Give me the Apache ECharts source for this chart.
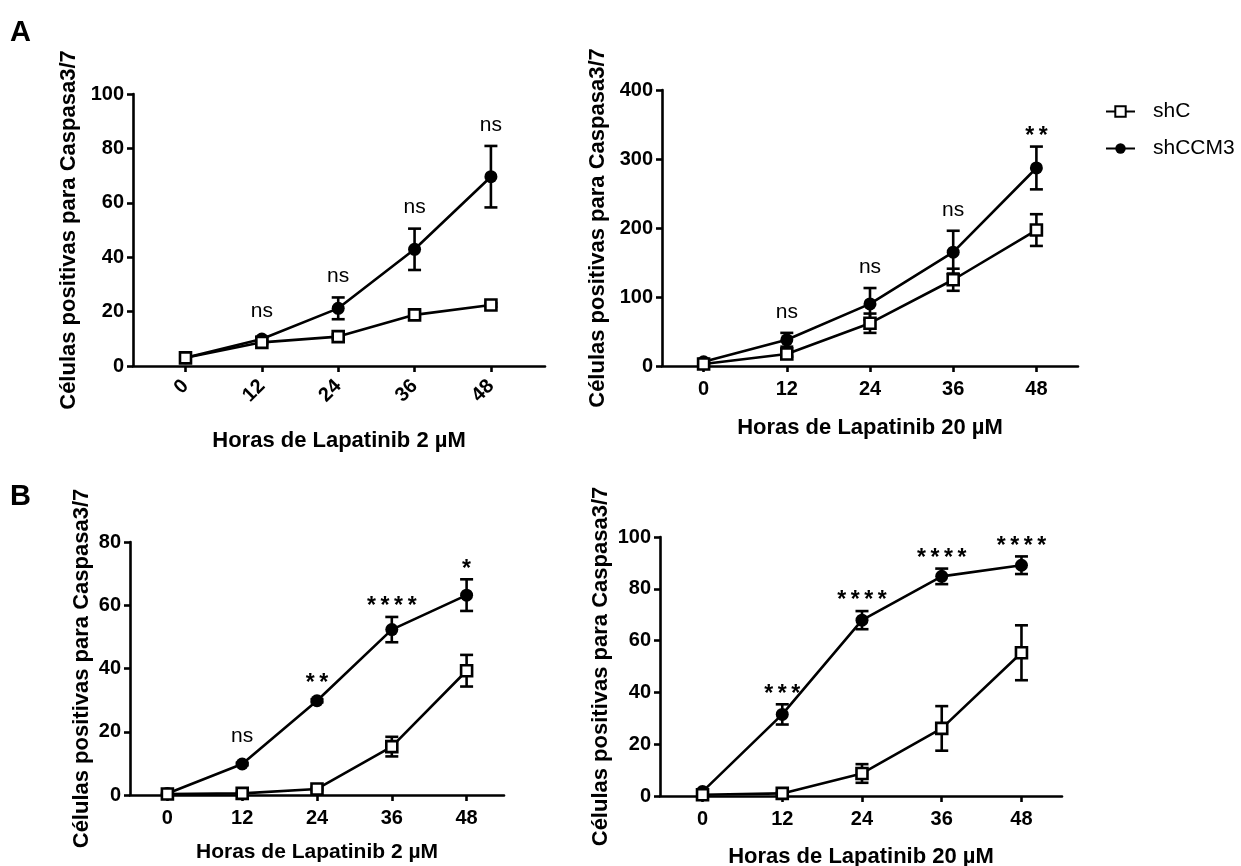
<!DOCTYPE html>
<html><head><meta charset="utf-8">
<script src="https://cdn.jsdelivr.net/npm/echarts@6/dist/echarts.min.js"></script>
<style>html,body{margin:0;padding:0;background:#fff}#c{width:1241px;height:866px}</style>
</head><body><div id="c"></div>
<script>
// ---- data ----
const hours = [0, 12, 24, 36, 48];
const xTickLabels = ['0', '12', '24', '36', '48'];
const seriesNames = ['shC', 'shCCM3'];

// Panel A1: Lapatinib 2 µM
const a1ShC = [3.0, 8.7, 10.8, 18.8, 22.4];
const a1ShCErr = [0.4, 0.6, 0.8, 0.8, 0.6];
const a1ShCCM3 = [3.0, 9.9, 21.2, 42.9, 69.6];
const a1ShCCM3Err = [0.3, 0.8, 4.0, 7.6, 11.3];
const a1Sig = ['', 'ns', 'ns', 'ns', 'ns'];

// Panel A2: Lapatinib 20 µM
const a2ShC = [3, 17.5, 62, 125, 197];
const a2ShCErr = [1, 4, 14, 16, 23];
const a2ShCCM3 = [6, 38, 90, 165, 287];
const a2ShCCM3Err = [2, 10, 23, 31, 31];
const a2Sig = ['', 'ns', 'ns', 'ns', '**'];

// Panel B1: Lapatinib 2 µM
const b1ShC = [0.3, 0.5, 1.9, 15.3, 39.3];
const b1ShCErr = [0.2, 0.3, 0.4, 3.1, 5.0];
const b1ShCCM3 = [0.5, 9.8, 29.8, 52.3, 63.2];
const b1ShCCM3Err = [0.2, 0.4, 0.5, 4.0, 5.0];
const b1Sig = ['', 'ns', '**', '****', '*'];

// Panel B2: Lapatinib 20 µM
const b2ShC = [0.5, 1.0, 8.7, 26.1, 55.3];
const b2ShCErr = [0.3, 0.4, 3.6, 8.6, 10.6];
const b2ShCCM3 = [1.7, 31.5, 67.9, 84.8, 89.1];
const b2ShCCM3Err = [0.3, 3.9, 3.5, 3.0, 3.4];
const b2Sig = ['', '***', '****', '****', '****'];

const yTitle = 'Células positivas para Caspasa3/7';
const xTitle2 = 'Horas de Lapatinib 2 µM';
const xTitle20 = 'Horas de Lapatinib 20 µM';

// ---- layout ----
const FF = '"Liberation Sans", Arial, Helvetica, sans-serif';
const panels = [
  {grid:{left:133, top:94, width:412, height:272}, xmin:-8.25, xmax:56.5, ymax:100, yint:20, rot:45, lblMargin:17,
   xName:xTitle2, xGap:64, yGap:53, xNameSize:22,
   shC:a1ShC, shCErr:a1ShCErr, ccm:a1ShCCM3, ccmErr:a1ShCCM3Err, sig:a1Sig},
  {grid:{left:662, top:90, width:416, height:276}, xmin:-6, xmax:54, ymax:400, yint:100, rot:0, lblMargin:13,
   xName:xTitle20, xGap:51, yGap:53, xNameSize:22,
   shC:a2ShC, shCErr:a2ShCErr, ccm:a2ShCCM3, ccmErr:a2ShCCM3Err, sig:a2Sig},
  {grid:{left:130, top:542, width:374, height:253}, xmin:-6, xmax:54, ymax:80, yint:20, rot:0, lblMargin:13,
   xName:xTitle2, xGap:47, yGap:37, xNameSize:21,
   shC:b1ShC, shCErr:b1ShCErr, ccm:b1ShCCM3, ccmErr:b1ShCCM3Err, sig:b1Sig},
  {grid:{left:660, top:537, width:402, height:259}, xmin:-6.4, xmax:54.1, ymax:100, yint:20, rot:0, lblMargin:13,
   xName:xTitle20, xGap:50, yGap:48, xNameSize:22,
   shC:b2ShC, shCErr:b2ShCErr, ccm:b2ShCCM3, ccmErr:b2ShCCM3Err, sig:b2Sig}
];

const axisLineStyle = {color:'#000', width:2.6};

function errRender(params, api) {
  const x = api.value(0), m = api.value(1), e = api.value(2);
  const t = api.coord([x, m + e]), b = api.coord([x, m - e]);
  const hw = 6.5;
  const st = {stroke:'#000', lineWidth:2.6, fill:null};
  return {type:'group', children:[
    {type:'line', shape:{x1:t[0], y1:t[1], x2:b[0], y2:b[1]}, style:st},
    {type:'line', shape:{x1:t[0]-hw, y1:t[1], x2:t[0]+hw, y2:t[1]}, style:st},
    {type:'line', shape:{x1:b[0]-hw, y1:b[1], x2:b[0]+hw, y2:b[1]}, style:st}
  ]};
}

function sigRender(sig) {
  return function(params, api) {
    const txt = sig[params.dataIndex];
    if (!txt) return null;
    const x = api.value(0), m = api.value(1), e = api.value(2);
    const pTop = api.coord([x, m + e]);
    const pC = api.coord([x, m]);
    const anchor = Math.min(pTop[1], pC[1] - 7);
    const star = txt.indexOf('*') >= 0;
    const shown = star ? txt.split('').join('\u2009') : txt;
    return {type:'text', x:pC[0], y:anchor - (star ? 10 : 21),
      style:{text:shown, fill:'#000', font:(star ? 'bold 23px ' : '21px ') + FF,
        align:'center', verticalAlign:'middle', textAlign:'center', textVerticalAlign:'middle'}};
  };
}

const grids = [], xAxes = [], yAxes = [], series = [];
panels.forEach((p, i) => {
  grids.push(Object.assign({containLabel:false, outerBoundsMode:'none'}, p.grid));
  xAxes.push({
    type:'value', gridIndex:i, min:p.xmin, max:p.xmax,
    axisLine:{show:true, onZero:false, lineStyle:axisLineStyle},
    axisTick:{show:true, length:6, lineStyle:axisLineStyle, customValues:hours},
    axisLabel:{show:true, customValues:hours, rotate:p.rot, margin:p.lblMargin,
      formatter:(v) => xTickLabels[hours.indexOf(v)] ?? '',
      fontSize:20, fontWeight:'bold', color:'#000', fontFamily:FF},
    splitLine:{show:false},
    name:p.xName, nameLocation:'middle', nameGap:p.xGap,
    nameTextStyle:{fontSize:p.xNameSize, fontWeight:'bold', color:'#000', fontFamily:FF}
  });
  yAxes.push({
    type:'value', gridIndex:i, min:0, max:p.ymax, interval:p.yint,
    axisLine:{show:true, onZero:false, lineStyle:axisLineStyle},
    axisTick:{show:true, length:6, lineStyle:axisLineStyle},
    axisLabel:{fontSize:20, fontWeight:'bold', color:'#000', margin:9, fontFamily:FF},
    splitLine:{show:false},
    name:yTitle, nameLocation:'middle', nameGap:p.yGap, nameRotate:90,
    nameTextStyle:{fontSize:22, fontWeight:'bold', color:'#000', fontFamily:FF}
  });
  const pts = (vals) => hours.map((h, k) => [h, vals[k]]);
  const ptsE = (vals, errs) => hours.map((h, k) => [h, vals[k], errs[k]]);
  // error bars
  series.push({type:'custom', xAxisIndex:i, yAxisIndex:i, renderItem:errRender, data:ptsE(p.ccm, p.ccmErr), z:1, silent:true, clip:false});
  series.push({type:'custom', xAxisIndex:i, yAxisIndex:i, renderItem:errRender, data:ptsE(p.shC, p.shCErr), z:1, silent:true, clip:false});
  // lines
  series.push({type:'line', name:seriesNames[1], xAxisIndex:i, yAxisIndex:i, data:pts(p.ccm),
    symbol:'circle', symbolSize:13, showAllSymbol:true,
    lineStyle:{color:'#000', width:2.6}, itemStyle:{color:'#000', borderColor:'#000', borderWidth:0},
    z:3, emphasis:{disabled:true}});
  series.push({type:'line', name:seriesNames[0], xAxisIndex:i, yAxisIndex:i, data:pts(p.shC),
    symbol:'rect', symbolSize:11, showAllSymbol:true,
    lineStyle:{color:'#000', width:2.6}, itemStyle:{color:'#fff', borderColor:'#000', borderWidth:2.6},
    z:4, emphasis:{disabled:true}});
  // significance
  series.push({type:'custom', xAxisIndex:i, yAxisIndex:i, renderItem:sigRender(p.sig), data:ptsE(p.ccm, p.ccmErr), z:5, silent:true, clip:false});
});

const chart = echarts.init(document.getElementById('c'), null, {renderer:'canvas'});
chart.setOption({
  animation:false,
  backgroundColor:'#fff',
  textStyle:{fontFamily:FF},
  grid:grids, xAxis:xAxes, yAxis:yAxes, series:series,
  legend:{data:seriesNames, orient:'vertical', left:1100, top:96, itemWidth:29, itemHeight:13, itemGap:16,
    textStyle:{fontSize:21, color:'#000', fontFamily:FF, padding:[0,0,0,13]}},
  graphic:[
    {type:'text', left:10, top:18, style:{text:'A', font:'bold 29px ' + FF, fill:'#000'}},
    {type:'text', left:10, top:482, style:{text:'B', font:'bold 29px ' + FF, fill:'#000'}}
  ]
});
</script></body></html>
